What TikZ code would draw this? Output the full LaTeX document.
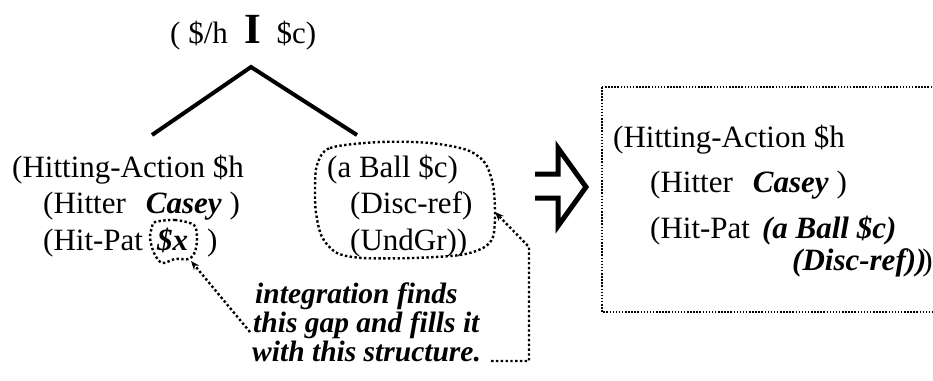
\documentclass[tikz,border=0pt]{standalone}
\usepackage{fontspec}
\setmainfont{Liberation Serif}
\usetikzlibrary{arrows.meta}

\begin{document}
\begin{tikzpicture}[x=1pt, y=-1pt, >=Stealth,
  txt/.style={anchor=base west, inner sep=0pt, font=\fontsize{31}{36}\selectfont},
  notetxt/.style={txt, text height=19pt, text depth=5pt, font=\fontsize{29.5}{28}\selectfont\bfseries\itshape},
  blob/.style={line width=2.4pt, dash pattern=on 2.4pt off 2.4pt},
  link/.style={blob, -{Stealth[length=9pt,width=7pt]}},
  frame/.style={line width=1.1pt, dash pattern=on 1.5pt off 1.6pt}]

\useasboundingbox (0,0) rectangle (933,380);

% Raiz
\node[txt] (root) at (170,43) {( \$/h\hspace{17pt}{\fontsize{43}{43}\selectfont\bfseries I}\hspace{15pt}\$c)};
\coordinate (top) at (251,67);
\coordinate (lft) at (152,135);
\coordinate (rgt) at (357,135);
\draw[line width=4pt] (lft) -- (top) -- (rgt);

% Estructura izquierda
\node[txt] (act) at (12,177) {(Hitting-Action \$h};
\node[txt] (hitter) at (43,213) {(Hitter\hspace{20pt}\textbf{\textit{Casey}}\hspace{8pt})};
\node[txt] (pat) at (43,250) {(Hit-Pat};
\node[txt] (gapx) at (157,250) {\textbf{\textit{\$x}}};
\node[txt] (patend) at (207,250) {)};
\draw[blob] plot[smooth cycle] coordinates {(155,222) (175,220) (194,225) (197,238) (195,252) (189,259) (175,259) (162,263) (154,253) (150,238) (152,227)};

% Estructura central
\node[txt] (ball) at (327,177) {(a Ball \$c)};
\node[txt] (disc) at (350,213) {(Disc-ref)};
\node[txt] (undgr) at (350,250) {(UndGr))};
\draw[blob] plot[smooth cycle] coordinates {(317,165) (330,148) (380,142) (430,143) (467,150) (485,163) (493,185) (495,213) (493,237) (483,248) (460,255) (413,258) (363,258) (337,253) (322,237) (316,213) (315,190)};

% Nota
\node[notetxt] (note1) at (255,303) {integration finds};
\node[notetxt] (note2) at (253,332) {this gap and fills it};
\node[notetxt] (note3) at (252,361) {with this structure.};

% Conectores
\coordinate (gaptip) at (191,261);
\coordinate (balltip) at (495,212);
\coordinate (bend) at (529,247);
\draw[link] ([xshift=-3pt]note2.base west) -- (gaptip);
\draw[link] ([xshift=10pt]note3.base east) -| (bend) -- (balltip);

% Flecha
\draw[line width=5pt, miter limit=10] (535,174) -- (558,174) -- (558,148) -- (586,187)
  -- (558,226) -- (558,198) -- (535,198);

% Resultado
\draw[frame] (602,87) rectangle (945,312);
\node[txt] (ract) at (613,147) {(Hitting-Action \$h};
\node[txt] (rhitter) at (650,192) {(Hitter\hspace{20pt}\textbf{\textit{Casey}}\hspace{8pt})};
\node[txt] (rpat) at (650,238) {(Hit-Pat\hspace{12pt}\textbf{\textit{(a Ball \$c)}}};
\node[txt] (rdisc) at (792,270) {\textbf{\textit{(Disc-ref))}}\kern-4pt)};

\end{tikzpicture}
\end{document}
